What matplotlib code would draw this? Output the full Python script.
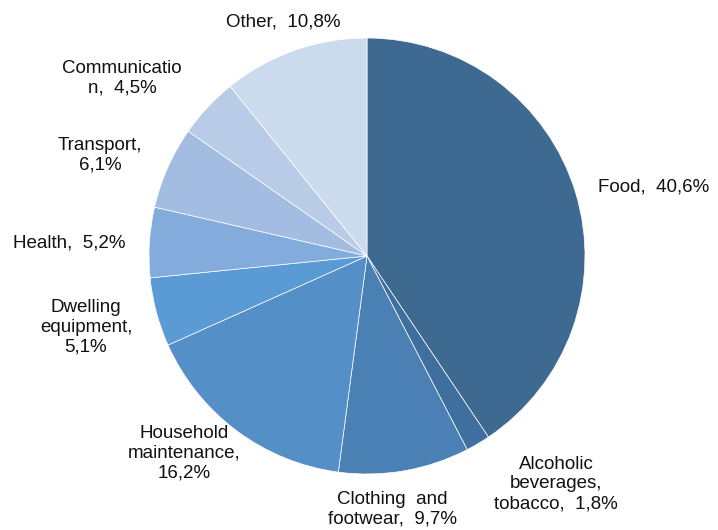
import matplotlib
matplotlib.use("Agg")
import matplotlib.pyplot as plt

categories = ["Food", "Alcoholic beverages, tobacco", "Clothing and footwear", "Household maintenance",
              "Dwelling equipment", "Health", "Transport", "Communication", "Other"]
values = [40.6, 1.8, 9.7, 16.2, 5.1, 5.2, 6.1, 4.5, 10.8]
label_text = ["Food,  40,6%", "Alcoholic\nbeverages,\ntobacco,  1,8%", "Clothing  and\nfootwear,  9,7%",
              "Household\nmaintenance,\n16,2%", "Dwelling\nequipment,\n5,1%", "Health,  5,2%",
              "Transport,\n6,1%", "Communicatio\nn,  4,5%", "Other,  10,8%"]
colors = ["#3E6A92", "#3F6F9E", "#4B80B5", "#5490C7", "#5A9AD5", "#83ABDB", "#A2BDE1", "#B8CCE7", "#CBDAED"]

# label centers in pixels (layout)
label_px = [(654, 187), (556, 484), (392, 509), (184, 453), (86, 327), (69, 243), (100, 155), (122, 78), (283, 22)]

W, H = 718, 530
cx, cy, R = 367, 256, 218

fig = plt.figure(figsize=(W / 100, H / 100), dpi=100)
ax = fig.add_axes([0, 0, 1, 1])
ax.pie(values, colors=colors, startangle=90, counterclock=False, radius=1,
       wedgeprops=dict(edgecolor="white", linewidth=0.5))
ax.set_xlim((0 - cx) / R, (W - cx) / R)
ax.set_ylim((cy - H) / R, cy / R)
ax.set_aspect("equal")
ax.axis("off")

for txt, (px, py) in zip(label_text, label_px):
    ax.text((px - cx) / R, (cy - py) / R, txt, ha="center", va="center",
            fontsize=13.5, family="Liberation Sans", color="#111111", linespacing=1.2)

fig.savefig("out.png", dpi=100)
